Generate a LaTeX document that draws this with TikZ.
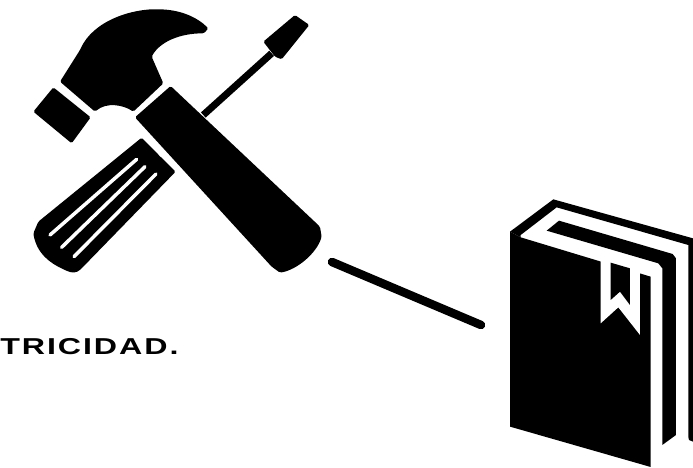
\documentclass[tikz,border=0pt]{standalone}
\usepackage{fontspec}
\setmainfont{Liberation Sans}
\begin{document}
\begin{tikzpicture}[
        x=1pt, y=-1pt,
        solid part/.style={fill=black, rounded corners=1.5pt},
        sharp part/.style={fill=black},
        cut part/.style={fill=white},
        slot/.style={draw=white, line width=3.5pt, line cap=round},
        shaft/.style={draw=black, line width=7pt},
        linkline/.style={draw=black, line width=8.5pt, line cap=round},
        caption/.style={font=\fontsize{23}{23}\selectfont\bfseries, anchor=base west, inner sep=0pt,
            xscale=1.4, transform shape}
    ]
        \useasboundingbox (0,0) rectangle (693,467);
        \clip (0,0) rectangle (693,467);

        % hammer and screwdriver
        \begin{scope}[scale=0.3333]
            \fill[solid part] (180,245) -- (240,150) .. controls (280,60) and (400,25) .. (480,28)
                .. controls (540,30) and (590,50) .. (625,85) -- (612,100)
                .. controls (540,100) and (480,125) .. (455,170) -- (490,250) -- (400,335)
                .. controls (370,315) and (320,305) .. (285,335) -- cycle;
            \fill[solid part] (100,335) -- (160,262) -- (272,352) -- (215,430) -- cycle;
            \fill[solid part] (115,665) -- (425,413) -- (527,515) -- (245,805)
                .. controls (230,820) and (215,820) .. (195,810)
                .. controls (150,790) and (110,760) .. (100,700) -- cycle;
            \draw[slot] (410,478) -- (150,705);
            \draw[slot] (435,500) -- (185,742);
            \draw[slot] (468,522) -- (222,770);
            \draw[slot, line cap=butt] (505,447) -- (478,466);
            \draw[shaft] (610,345) -- (815,160);
            \fill[solid part] (790,125) -- (885,45) -- (928,75) -- (845,178) -- (825,170) -- cycle;
            \fill[solid part] (405,352) -- (512,258) -- (960,680) -- (965,710)
                .. controls (950,760) and (890,810) .. (840,818) -- (815,800) -- cycle;
        \end{scope}

        % book
        \begin{scope}[shift={(490,180)}, scale=0.3333]
            \fill[sharp part] (60,155) -- (190,58) -- (609,175) -- (609,785) -- (597,780) -- (595,770)
                -- (595,195) -- (200,82) -- (92,165) -- (92,172) -- cycle;
            \fill[sharp part] (60,155) -- (92,172) -- (482,290) -- (482,861) -- (60,740) -- cycle;
            \fill[sharp part] (170,152) -- (207,122) -- (548,222) -- (558,235) -- (558,765) -- (517,795)
                -- (517,265) -- (505,250) -- cycle;
            \fill[cut part] (332,236) -- (332,430) -- (385,382) -- (450,465) -- (450,270) -- cycle;
            \fill[sharp part] (362,248) -- (420,265) -- (420,375) -- (390,335) -- (362,360) -- cycle;
        \end{scope}

        \coordinate (linkstart) at (332,262);
        \coordinate (linkend) at (481,325);
        \draw[linkline] (linkstart) -- (linkend);

        \node[caption] (electricidad) at (0,354) {\addfontfeature{LetterSpace=6}TRICIDAD.};
    \end{tikzpicture}
\end{document}
